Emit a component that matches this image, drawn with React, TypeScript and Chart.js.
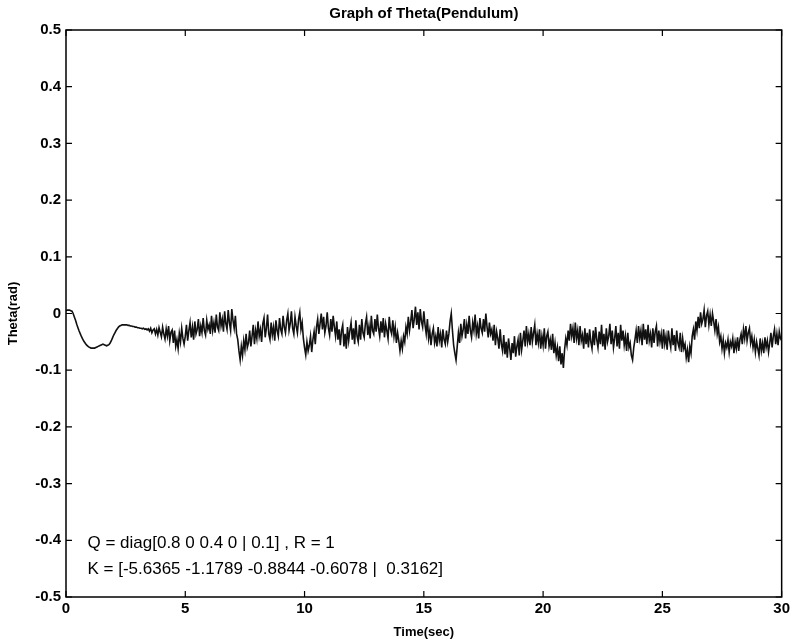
import React, { useEffect, useRef } from "react";
import { Chart, registerables } from "chart.js";

Chart.register(...registerables);

// sampling step of the recorded signal (seconds)
const timeStep = 0.05;

// Theta (rad), 0.05 s apart (each row = 0.5 s)
const theta0to5 = [
  0.005, 0.006, 0.006, 0.006, 0.005, 0.004, 0.0, -0.006, -0.012, -0.019,
  -0.025, -0.031, -0.036, -0.041, -0.045, -0.049, -0.052, -0.055, -0.057, -0.059,
  -0.06, -0.061, -0.061, -0.061, -0.061, -0.06, -0.059, -0.058, -0.057, -0.056,
  -0.055, -0.054, -0.055, -0.056, -0.057, -0.056, -0.055, -0.052, -0.048, -0.043,
  -0.038, -0.034, -0.03, -0.027, -0.024, -0.022, -0.021, -0.02, -0.02, -0.02,
  -0.02, -0.02, -0.021, -0.021, -0.022, -0.022, -0.023, -0.023, -0.024, -0.024,
  -0.025, -0.025, -0.026, -0.026, -0.027, -0.026, -0.028, -0.027, -0.029, -0.027,
  -0.031, -0.026, -0.034, -0.029, -0.027, -0.036, -0.028, -0.038, -0.025, -0.033,
  -0.041, -0.024, -0.036, -0.045, -0.027, -0.04, -0.022, -0.048, -0.033, -0.029,
  -0.052, -0.03, -0.058, -0.046, -0.062, -0.035, -0.05, -0.026, -0.044, -0.054,
];
const theta5to10 = [
  -0.04, -0.02, -0.048, -0.03, -0.016, -0.042, -0.024, -0.046, -0.014, -0.036,
  -0.028, -0.01, -0.04, -0.022, -0.034, -0.008, -0.03, -0.038, -0.012, -0.028,
  -0.02, -0.036, -0.004, -0.03, -0.016, -0.034, -0.002, -0.024, -0.03, 0.002,
  -0.022, -0.01, -0.032, 0.004, -0.018, -0.028, 0.006, -0.016, -0.03, 0.008,
  -0.012, -0.026, -0.004, -0.036, -0.046, -0.066, -0.082, -0.058, -0.074, -0.048,
  -0.064, -0.036, -0.06, -0.052, -0.03, -0.058, -0.04, -0.02, -0.054, -0.03,
  -0.044, -0.014, -0.04, -0.028, -0.05, -0.018, -0.008, -0.042, -0.026, -0.002,
  -0.036, -0.046, -0.016, -0.038, -0.024, -0.048, -0.012, -0.03, -0.04, -0.008,
  -0.028, -0.036, -0.004, -0.024, -0.034, -0.012, 0.0, -0.03, -0.018, 0.004,
  -0.026, -0.036, -0.006, -0.022, -0.034, -0.01, 0.002, -0.028, -0.016, -0.044,
];
const theta10to15 = [
  -0.06, -0.073, -0.05, -0.066, -0.056, -0.04, -0.068, -0.046, -0.032, -0.054,
  -0.024, -0.01, -0.036, -0.018, 0.0, -0.028, -0.006, -0.034, -0.022, 0.002,
  -0.026, -0.038, -0.01, -0.032, -0.004, -0.024, -0.04, -0.014, -0.046, -0.028,
  -0.056, -0.03, -0.02, -0.058, -0.036, -0.062, -0.024, -0.048, -0.03, -0.016,
  -0.046, -0.026, -0.054, -0.012, -0.04, -0.05, -0.02, -0.046, -0.01, -0.034,
  -0.042, -0.018, -0.006, -0.038, -0.022, -0.044, -0.004, -0.03, -0.036, -0.01,
  -0.032, -0.002, -0.026, -0.04, -0.014, -0.034, -0.008, -0.042, -0.018, -0.03,
  -0.044, -0.006, -0.028, -0.036, -0.012, -0.04, -0.024, -0.052, -0.034, -0.048,
  -0.066, -0.048, -0.062, -0.04, -0.05, -0.024, -0.036, -0.006, -0.03, -0.014,
  0.006, -0.026, -0.01, 0.012, -0.02, 0.002, -0.028, 0.008, -0.014, -0.024,
];
const theta15to20 = [
  0.004, -0.02, -0.036, -0.01, -0.044, -0.03, -0.056, -0.036, -0.026, -0.052,
  -0.04, -0.058, -0.024, -0.048, -0.036, -0.06, -0.028, -0.046, -0.054, -0.03,
  -0.05, -0.036, -0.014, 0.0, -0.03, -0.056, -0.07, -0.082, -0.058, -0.034,
  -0.052, -0.018, -0.04, -0.028, -0.01, -0.044, -0.02, -0.036, -0.004, -0.03,
  -0.042, -0.016, -0.03, -0.002, -0.036, -0.022, -0.044, -0.008, -0.026, -0.034,
  -0.01, -0.032, 0.0, -0.024, -0.042, -0.016, -0.036, -0.028, -0.048, -0.02,
  -0.056, -0.032, -0.044, -0.062, -0.028, -0.054, -0.066, -0.038, -0.072, -0.05,
  -0.078, -0.044, -0.062, -0.082, -0.052, -0.07, -0.04, -0.076, -0.058, -0.046,
  -0.074, -0.034, -0.064, -0.048, -0.03, -0.058, -0.022, -0.05, -0.036, -0.056,
  -0.024, -0.05, -0.034, -0.02, -0.056, -0.036, -0.052, -0.028, -0.062, -0.04,
];
const theta20to25 = [
  -0.056, -0.026, -0.062, -0.04, -0.032, -0.058, -0.046, -0.064, -0.036, -0.07,
  -0.052, -0.074, -0.06, -0.084, -0.058, -0.09, -0.07, -0.096, -0.064, -0.044,
  -0.056, -0.03, -0.048, -0.018, -0.04, -0.026, -0.052, -0.016, -0.044, -0.03,
  -0.056, -0.022, -0.048, -0.038, -0.062, -0.026, -0.054, -0.034, -0.06, -0.028,
  -0.05, -0.062, -0.03, -0.056, -0.024, -0.046, -0.06, -0.032, -0.054, -0.02,
  -0.058, -0.036, -0.064, -0.026, -0.05, -0.04, -0.018, -0.054, -0.03, -0.06,
  -0.044, -0.022, -0.058, -0.034, -0.062, -0.02, -0.048, -0.03, -0.056, -0.04,
  -0.066, -0.034, -0.06, -0.052, -0.074, -0.082, -0.06, -0.046, -0.03, -0.052,
  -0.022, -0.044, -0.03, -0.056, -0.018, -0.046, -0.028, -0.054, -0.02, -0.048,
  -0.036, -0.06, -0.026, -0.052, -0.032, -0.022, -0.058, -0.03, -0.05, -0.036,
];
const theta25to30 = [
  -0.062, -0.028, -0.054, -0.04, -0.064, -0.03, -0.048, -0.06, -0.026, -0.056,
  -0.038, -0.066, -0.03, -0.052, -0.06, -0.034, -0.068, -0.044, -0.062, -0.054,
  -0.078, -0.064, -0.086, -0.058, -0.07, -0.04, -0.028, -0.046, -0.014, -0.03,
  -0.006, -0.026, 0.002, -0.018, -0.01, 0.006, -0.024, -0.004, 0.004, -0.02,
  -0.002, -0.022, 0.0, -0.014, -0.03, -0.01, -0.036, -0.024, -0.05, -0.04,
  -0.062, -0.046, -0.07, -0.052, -0.06, -0.046, -0.068, -0.05, -0.058, -0.044,
  -0.07, -0.05, -0.062, -0.042, -0.066, -0.046, -0.036, -0.054, -0.028, -0.044,
  -0.022, -0.048, -0.034, -0.026, -0.052, -0.04, -0.06, -0.046, -0.068, -0.05,
  -0.062, -0.074, -0.044, -0.066, -0.052, -0.07, -0.042, -0.06, -0.048, -0.068,
  -0.052, -0.034, -0.06, -0.04, -0.028, -0.054, -0.036, -0.056, -0.032, -0.044,
  -0.048,
];

const xTickValues = [0, 5, 10, 15, 20, 25, 30];
const yTickValues = [0.5, 0.4, 0.3, 0.2, 0.1, 0, -0.1, -0.2, -0.3, -0.4, -0.5];

const chartTitle = "Graph of Theta(Pendulum)";
const xAxisTitle = "Time(sec)";
const yAxisTitle = "Theta(rad)";
const noteLines = [
  "Q = diag[0.8 0 0.4 0 | 0.1] , R = 1",
  "K = [-5.6365 -1.1789 -0.8844 -0.6078 |  0.3162]",
];
const notePositions = [
  { x: 0.9, y: -0.405 },
  { x: 0.9, y: -0.452 },
];

const FONT = '"Liberation Sans", Arial, sans-serif';

export default function App() {
  const canvasRef = useRef<HTMLCanvasElement | null>(null);

  useEffect(() => {
    document.body.style.margin = "0";
    const canvas = canvasRef.current;
    if (!canvas) return;

    const thetaValues = [
      ...theta0to5,
      ...theta5to10,
      ...theta10to15,
      ...theta15to20,
      ...theta20to25,
      ...theta25to30,
    ];
    const points = thetaValues.map((v, i) => ({
      x: Number((i * timeStep).toFixed(2)),
      y: v,
    }));

    const decor = {
      id: "matlabDecor",
      afterDraw(chart: any) {
        const { ctx, chartArea, scales } = chart;
        const { left, right, top, bottom } = chartArea;
        const xs = scales.x;
        const ys = scales.y;
        ctx.save();
        ctx.strokeStyle = "#000";
        ctx.lineWidth = 1.5;
        ctx.strokeRect(left, top, right - left, bottom - top);
        ctx.lineWidth = 1.2;
        const tl = 6;
        ctx.beginPath();
        xTickValues.forEach((v) => {
          const px = xs.getPixelForValue(v);
          ctx.moveTo(px, bottom);
          ctx.lineTo(px, bottom - tl);
          ctx.moveTo(px, top);
          ctx.lineTo(px, top + tl);
        });
        yTickValues.forEach((v) => {
          const py = ys.getPixelForValue(v);
          ctx.moveTo(left, py);
          ctx.lineTo(left + tl, py);
          ctx.moveTo(right, py);
          ctx.lineTo(right - tl, py);
        });
        ctx.stroke();

        ctx.fillStyle = "#000";
        ctx.textBaseline = "middle";
        ctx.textAlign = "center";
        ctx.font = `bold 15px ${FONT}`;
        ctx.fillText(chartTitle, (left + right) / 2, 14);
        ctx.font = `bold 13px ${FONT}`;
        ctx.fillText(xAxisTitle, (left + right) / 2, 632);
        ctx.save();
        ctx.translate(13, (top + bottom) / 2);
        ctx.rotate(-Math.PI / 2);
        ctx.fillText(yAxisTitle, 0, 0);
        ctx.restore();

        ctx.textAlign = "left";
        ctx.font = `17px ${FONT}`;
        noteLines.forEach((line, i) => {
          const p = notePositions[i];
          ctx.fillText(line, xs.getPixelForValue(p.x), ys.getPixelForValue(p.y));
        });
        ctx.restore();
      },
    };

    const chart = new Chart(canvas, {
      type: "line",
      data: {
        datasets: [
          {
            data: points,
            borderColor: "#111",
            borderWidth: 1.6,
            pointRadius: 0,
            tension: 0,
            fill: false,
          },
        ],
      },
      options: {
        animation: false,
        responsive: false,
        maintainAspectRatio: false,
        layout: { padding: { top: 30, right: 8, left: 0, bottom: 0 } },
        plugins: {
          legend: { display: false },
          title: { display: false },
          tooltip: { enabled: false },
        },
        scales: {
          x: {
            type: "linear",
            min: 0,
            max: 30,
            afterFit: (s: any) => {
              s.height = 47;
            },
            afterBuildTicks: (s: any) => {
              s.ticks = xTickValues.map((v) => ({ value: v }));
            },
            ticks: {
              color: "#000",
              padding: 3,
              maxRotation: 0,
              font: { family: FONT, size: 15, weight: "bold" },
              callback: (v: any) => String(v),
            },
            grid: { display: false, drawTicks: false },
            border: { display: false },
          },
          y: {
            type: "linear",
            min: -0.5,
            max: 0.5,
            afterFit: (s: any) => {
              s.width = 66;
            },
            afterBuildTicks: (s: any) => {
              s.ticks = yTickValues.map((v) => ({ value: v }));
            },
            ticks: {
              color: "#000",
              padding: 5,
              font: { family: FONT, size: 15, weight: "bold" },
              callback: (v: any) => String(Number(Number(v).toFixed(1))),
            },
            grid: { display: false, drawTicks: false },
            border: { display: false },
          },
        },
      },
      plugins: [decor],
    });

    return () => chart.destroy();
  }, []);

  return (
    <div style={{ width: 793, height: 644, background: "#fff" }}>
      <canvas ref={canvasRef} width={793} height={644} />
    </div>
  );
}
